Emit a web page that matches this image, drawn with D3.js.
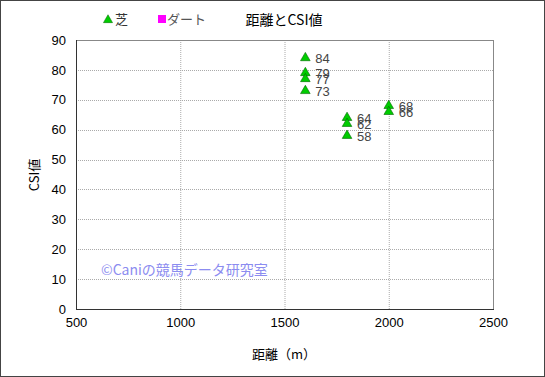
<!DOCTYPE html>
<html><head><meta charset="utf-8">
<script src="https://cdn.jsdelivr.net/npm/d3@7"></script>
<style>body{margin:0;background:#fff;} text{font-family:"Liberation Sans","Noto Sans CJK JP",sans-serif;}</style>
</head><body>
<svg id="c" width="545" height="377"></svg>
<script>
const distances = [1600, 1600, 1600, 1600, 1800, 1800, 1800, 2000, 2000];
const csiValues = [84, 79, 77, 73, 64, 62, 58, 68, 66];
const xTicks = [500, 1000, 1500, 2000, 2500];
const yTicks = [0, 10, 20, 30, 40, 50, 60, 70, 80, 90];
const legendLabels = ["芝", "ダート"];
const legendColors = ["#00cc00", "#ff00ff"];

const svg = d3.select("#c");
const jp = '"Noto Sans CJK JP",sans-serif';
svg.append("rect").attr("x",0.5).attr("y",0.5).attr("width",544).attr("height",376)
  .attr("fill","#fff").attr("stroke","#444").attr("stroke-width",1);

const L=76, R=493, T=40, B=309;
const x = d3.scaleLinear().domain([500,2500]).range([L,R]);
const y = d3.scaleLinear().domain([0,90]).range([B,T]);

// grid
const g = svg.append("g");
g.selectAll(".gx").data(xTicks.slice(1,-1)).join("line")
  .attr("x1",d=>x(d)+0.5).attr("x2",d=>x(d)+0.5).attr("y1",T).attr("y2",B)
  .attr("stroke","#aaa").attr("stroke-dasharray","1,1");
g.selectAll(".gy").data(yTicks.slice(1,-1)).join("line")
  .attr("y1",d=>Math.round(y(d))+0.5).attr("y2",d=>Math.round(y(d))+0.5).attr("x1",L).attr("x2",R)
  .attr("stroke","#aaa").attr("stroke-dasharray","1,1");
svg.append("rect").attr("x",L+0.5).attr("y",T+0.5).attr("width",R-L).attr("height",B-T)
  .attr("fill","none").attr("stroke","#888");
svg.append("line").attr("x1",L+0.5).attr("x2",L+0.5).attr("y1",T).attr("y2",B+1).attr("stroke","#333");
svg.append("line").attr("x1",L).attr("x2",R+1).attr("y1",B+0.5).attr("y2",B+0.5).attr("stroke","#333");

// axes
const xa = svg.append("g").attr("transform",`translate(0,${B})`)
  .call(d3.axisBottom(x).tickValues(xTicks).tickFormat(d3.format("d")).tickSize(0).tickPadding(9));
xa.select(".domain").remove();
xa.selectAll("text").attr("font-size",13).attr("fill","#000").style("font-family","'Liberation Sans',sans-serif");
const ya = svg.append("g").attr("transform",`translate(${L},0)`)
  .call(d3.axisLeft(y).tickValues(yTicks).tickFormat(d3.format("d")).tickSize(0).tickPadding(10));
ya.select(".domain").remove();
ya.selectAll("text").attr("font-size",13).attr("fill","#000").style("font-family","'Liberation Sans',sans-serif");

// points
const pts = distances.map((d,i)=>({d, v: csiValues[i]}));
const tri = d3.symbol().type(d3.symbolTriangle).size(40);
svg.selectAll(".pt").data(pts).join("path")
  .attr("d",tri).attr("transform",p=>`translate(${x(p.d)},${y(p.v)})`)
  .attr("fill","#00cc00").attr("stroke","#006600").attr("stroke-width",0.6);
svg.selectAll(".lb").data(pts).join("text")
  .attr("x",p=>x(p.d)+10).attr("y",p=>y(p.v)+5)
  .attr("font-size",13).attr("fill","#444").text(p=>p.v);

// title & legend
svg.append("text").attr("x",284).attr("y",25).attr("text-anchor","middle")
  .attr("font-size",14).style("font-family",jp).text("距離とCSI値");
svg.append("path").attr("d",d3.symbol().type(d3.symbolTriangle).size(36))
  .attr("transform","translate(108,20)").attr("fill",legendColors[0]).attr("stroke","#006600").attr("stroke-width",0.5);
svg.append("text").attr("x",115).attr("y",24).attr("font-size",13).style("font-family",jp).attr("fill","#333").text(legendLabels[0]);
svg.append("rect").attr("x",158).attr("y",15).attr("width",8).attr("height",8).attr("fill",legendColors[1]);
svg.append("text").attr("x",167).attr("y",24).attr("font-size",13).style("font-family",jp).attr("fill","#555").text(legendLabels[1]);

// axis titles
svg.append("text").attr("x",284).attr("y",359).attr("text-anchor","middle")
  .attr("font-size",13).style("font-family",jp).text("距離（m）");
svg.append("text").attr("transform","translate(39,175) rotate(-90)").attr("text-anchor","middle")
  .attr("font-size",13).style("font-family",jp).text("CSI値");

// watermark
svg.append("text").attr("x",101).attr("y",275).attr("font-size",14).attr("fill","#8c8cf0")
  .style("font-family",jp).text("©Caniの競馬データ研究室");
</script>
</body></html>
